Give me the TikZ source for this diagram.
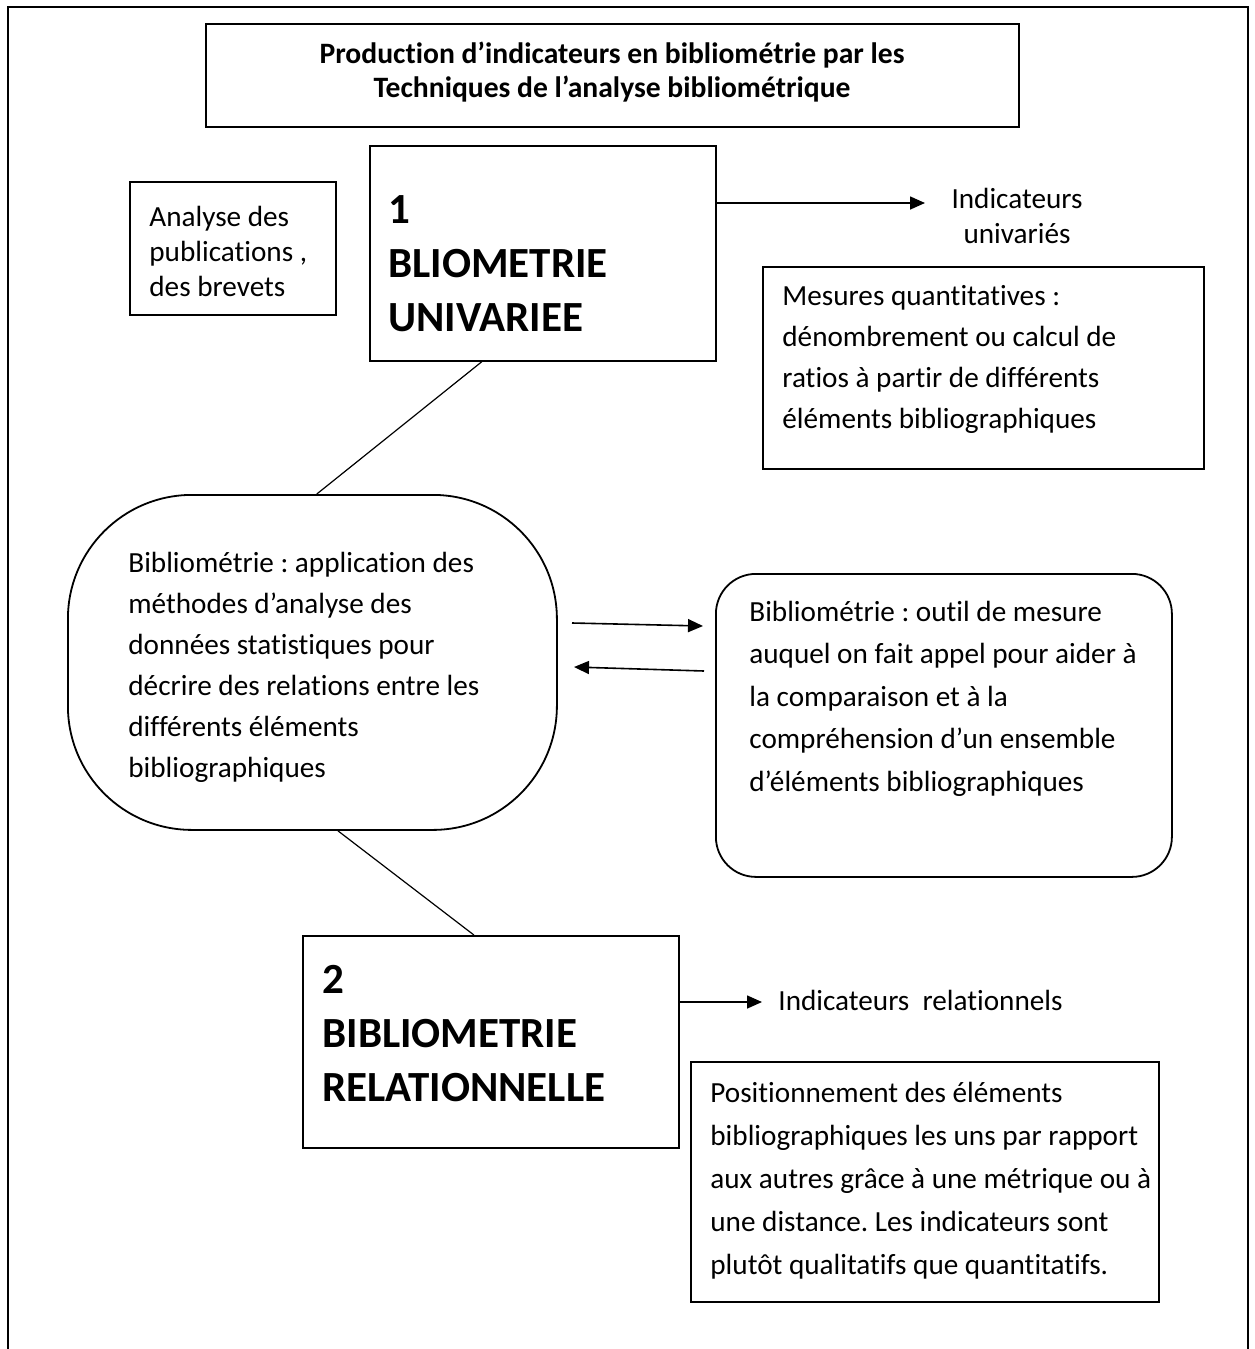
\documentclass[tikz,border=0pt]{standalone}
\usepackage{fontspec}
\setmainfont{Carlito}[Ligatures=NoCommon]
\usetikzlibrary{arrows.meta,calc}

\begin{document}
\frenchspacing
\begin{tikzpicture}[x=0.5pt,y=-0.5pt,
  outer/.style={line width=1.1pt},
  box/.style={draw, line width=0.9pt, anchor=north west, inner sep=0pt},
  conn/.style={line width=0.6pt},
  arr/.style={line width=0.8pt, -{Triangle[length=7.5pt,width=6.5pt]}},
  % text blocks: the first line carries a strut so the baseline sits at the given point
  bodytxt/.style={anchor=north west, inner sep=0pt, align=left,
    font=\fontsize{14.6}{20.5}\selectfont, yshift=14.35pt},
  tighttxt/.style={inner sep=0pt, font=\fontsize{14.6}{17.5}\selectfont, yshift=12.25pt},
  widetxt/.style={anchor=north west, inner sep=0pt, align=left,
    font=\fontsize{14.6}{21.25}\selectfont, yshift=14.875pt},
  postxt/.style={anchor=north west, inner sep=0pt, align=left,
    font=\fontsize{14.6}{21.5}\selectfont, yshift=15.05pt},
  bigtxt/.style={anchor=north west, inner sep=0pt, align=left,
    font=\fontsize{21.5}{27}\bfseries\selectfont, yshift=18.9pt},
  titletxt/.style={anchor=north, inner sep=0pt, align=center,
    font=\fontsize{14.8}{17}\bfseries\selectfont, yshift=11.9pt}
]
\useasboundingbox (0,0) rectangle (1254,1349);

% page frame, open at the bottom
\draw[outer] (8,1360) -- (8,7) -- (1248,7) -- (1248,1360);

% heading
\node[box, minimum width=406.5pt, minimum height=51.5pt] (title) at (205,23) {};
\node[titletxt] (titletext) at (612,63)
  {\strut Production d’indicateurs en bibliométrie par les\\Techniques de l’analyse bibliométrique};

% univariate bibliometrics
\node[box, minimum width=103pt, minimum height=66.5pt] (analyse) at (129,181) {};
\node[tighttxt, anchor=north west, align=left] (analysetext) at (149,226)
  {\strut Analyse des\\publications ,\\des brevets};

\node[box, minimum width=173pt, minimum height=107.5pt] (box1) at (369,145) {};
\node[bigtxt] (box1text) at (388,223) {\strut 1\\BLIOMETRIE\\UNIVARIEE};

\coordinate (uniA) at (715,203);
\coordinate (uniB) at (925,203);
\draw[arr] (uniA) -- (uniB);
\node[tighttxt, anchor=north, align=center] (unilabel) at (1017,208) {\strut Indicateurs\\univariés};

\node[box, minimum width=220.5pt, minimum height=101pt] (mesures) at (762,266) {};
\node[bodytxt] (mesurestext) at (782,305)
  {\strut Mesures quantitatives :\\dénombrement ou calcul de\\ratios à partir de différents\\éléments bibliographiques};

% central definition
\node[box, rounded corners=62pt, minimum width=244.5pt, minimum height=167.5pt] (oval) at (67,494) {};
\node[bodytxt] (ovaltext) at (128,572)
  {\strut Bibliométrie : application des\\méthodes d’analyse des\\données statistiques pour\\décrire des relations entre les\\différents éléments\\bibliographiques};

\node[box, rounded corners=20pt, minimum width=228pt, minimum height=151.5pt] (outil) at (715,573) {};
\node[widetxt] (outiltext) at (749,621)
  {\strut Bibliométrie : outil de mesure\\auquel on fait appel pour aider à\\la comparaison et à la\\compréhension d’un ensemble\\d’éléments bibliographiques};

\coordinate (midA) at (572,623);
\coordinate (midB) at (703,626);
\coordinate (midC) at (704,671);
\coordinate (midD) at (574,667);
\draw[arr] (midA) -- (midB);
\draw[arr] (midC) -- (midD);

% relational bibliometrics
\node[box, minimum width=188pt, minimum height=106pt] (box2) at (302,935) {};
\node[bigtxt] (box2text) at (322,993) {\strut 2\\BIBLIOMETRIE\\RELATIONNELLE};

\coordinate (relB) at (762,1002);
\draw[arr] (box2.east |- relB) -- (relB);
\node[bodytxt] (rellabel) at (778,1010) {\strut Indicateurs\ \ relationnels};

\node[box, minimum width=234pt, minimum height=120pt] (posbox) at (690,1061) {};
\node[postxt] (postext) at (710,1102)
  {\strut Positionnement des éléments\\bibliographiques les uns par rapport\\aux autres grâce à une métrique ou à\\une distance. Les indicateurs sont\\plutôt qualitatifs que quantitatifs.};

% links between the blocks
\draw[conn] ($(box1.south west)!0.324!(box1.south east)$) -- ($(oval.north west)!0.509!(oval.north east)$);
\draw[conn] ($(oval.south west)!0.552!(oval.south east)$) -- ($(box2.north west)!0.455!(box2.north east)$);
\end{tikzpicture}
\end{document}
